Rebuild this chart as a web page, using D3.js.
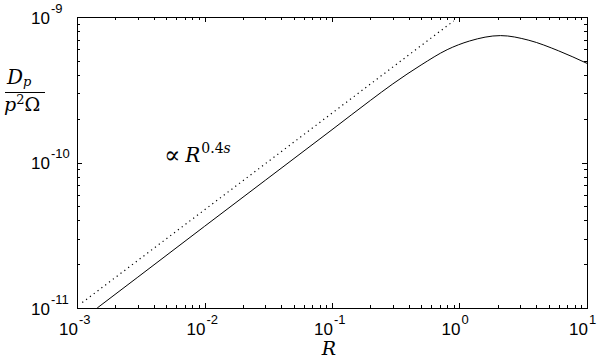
<!DOCTYPE html>
<html>
<head>
<meta charset="utf-8">
<script src="https://cdn.jsdelivr.net/npm/d3@7"></script>
<style>
  html, body { margin: 0; padding: 0; background: #fff; }
  svg { display: block; }
  .tick-label { font-family: "Liberation Sans", Arial, sans-serif; fill: #000; }
  .math { font-family: "DejaVu Serif", "Liberation Serif", serif; fill: #000; }
</style>
</head>
<body>
<svg id="chart" width="600" height="359"></svg>
<script>
// ──────────────  data

// solid curve: D_p / (p^2 Ω) against R
const curveR = [0.00144, 0.003, 0.01, 0.03, 0.1, 0.2, 0.3, 0.5, 0.8, 1.2, 2.1, 3.5, 6, 10];
const curveD = [1.0e-11, 1.63e-11, 3.64e-11, 7.55e-11, 1.68e-10, 2.67e-10, 3.47e-10,
                4.68e-10, 5.96e-10, 6.84e-10, 7.45e-10, 6.92e-10, 5.85e-10, 4.8e-10];

// dotted guide ∝ R^0.4s
const guideR = [0.0011, 0.9];
const guideD = [1.09e-11, 9.4e-10];

const xDecades = [-3, -2, -1, 0, 1];
const yDecades = [-11, -10, -9];

// ──────────────  layout

const M = { left: 77, right: 587, top: 17, bottom: 308 };

const svg = d3.select('#chart');

const x = d3.scaleLog().domain([1e-3, 10]).range([M.left, M.right]);
const y = d3.scaleLog().domain([1e-11, 1e-9]).range([M.bottom, M.top]);

// minor tick positions (2..9 per decade)
function minorTicks(scale) {
  const [a, b] = scale.domain();
  const out = [];
  for (let e = Math.round(Math.log10(a)); e < Math.round(Math.log10(b)); e++) {
    for (let k = 2; k <= 9; k++) out.push(k * Math.pow(10, e));
  }
  return out;
}

const MAJ = 5, MIN = 3;
const ticks = svg.append('g').attr('stroke', '#000').attr('stroke-width', 1);

// x ticks, bottom and top, pointing inward
xDecades.forEach(e => {
  const px = Math.round(x(Math.pow(10, e))) + 0.5;
  ticks.append('line').attr('x1', px).attr('x2', px).attr('y1', M.bottom).attr('y2', M.bottom - MAJ);
  ticks.append('line').attr('x1', px).attr('x2', px).attr('y1', M.top).attr('y2', M.top + MAJ);
});
minorTicks(x).forEach(v => {
  const px = Math.round(x(v)) + 0.5;
  ticks.append('line').attr('x1', px).attr('x2', px).attr('y1', M.bottom).attr('y2', M.bottom - MIN);
  ticks.append('line').attr('x1', px).attr('x2', px).attr('y1', M.top).attr('y2', M.top + MIN);
});

// y ticks, left and right
yDecades.forEach(e => {
  const py = Math.round(y(Math.pow(10, e))) + 0.5;
  ticks.append('line').attr('y1', py).attr('y2', py).attr('x1', M.left).attr('x2', M.left + MAJ);
  ticks.append('line').attr('y1', py).attr('y2', py).attr('x1', M.right).attr('x2', M.right - MAJ);
});
minorTicks(y).forEach(v => {
  const py = Math.round(y(v)) + 0.5;
  ticks.append('line').attr('y1', py).attr('y2', py).attr('x1', M.left).attr('x2', M.left + MIN);
  ticks.append('line').attr('y1', py).attr('y2', py).attr('x1', M.right).attr('x2', M.right - MIN);
});

// frame
svg.append('rect')
  .attr('x', M.left + 0.5).attr('y', M.top + 0.5)
  .attr('width', M.right - M.left).attr('height', M.bottom - M.top)
  .attr('fill', 'none').attr('stroke', '#000').attr('stroke-width', 1);

// ──────────────  tick labels (10 with superscript exponent)

function powerLabel(px, py, e) {
  const g = svg.append('g').attr('class', 'tick-label');
  g.append('text').attr('x', px).attr('y', py)
    .attr('text-anchor', 'end').attr('font-size', 17).text('10');
  g.append('text').attr('x', px + 1).attr('y', py - 11)
    .attr('font-size', 13).text(e < 0 ? '-' + (-e) : String(e));
}
xDecades.forEach(e => powerLabel(x(Math.pow(10, e)) + 1, M.bottom + 27, e));
yDecades.forEach(e => powerLabel(50, y(Math.pow(10, e)) + 6.5, e));

// ──────────────  lines

const line = d3.line()
  .x(d => x(d[0]))
  .y(d => y(d[1]))
  .curve(d3.curveMonotoneX);

svg.append('clipPath').attr('id', 'plot-clip')
  .append('rect').attr('x', M.left).attr('y', M.top)
  .attr('width', M.right - M.left + 1).attr('height', M.bottom - M.top + 1);

const plot = svg.append('g').attr('clip-path', 'url(#plot-clip)');

plot.append('path')
  .datum(guideR.map((r, i) => [r, guideD[i]]))
  .attr('d', d3.line().x(d => x(d[0])).y(d => y(d[1])))
  .attr('fill', 'none').attr('stroke', '#000').attr('stroke-width', 1.2)
  .attr('stroke-dasharray', '1.2,3.6');

plot.append('path')
  .datum(curveR.map((r, i) => [r, curveD[i]]))
  .attr('d', line)
  .attr('fill', 'none').attr('stroke', '#000').attr('stroke-width', 1);

// ──────────────  annotation ∝ R^0.4s

const ann = svg.append('text').attr('class', 'math').attr('x', 164).attr('y', 162).attr('font-size', 20);
ann.append('tspan').attr('font-size', 24).attr('dy', 1).text('∝');
ann.append('tspan').attr('font-style', 'italic').attr('dx', 5).attr('dy', -1).text('R');
ann.append('tspan').attr('font-size', 14).attr('dy', -9).attr('dx', 1).text('0.4');
ann.append('tspan').attr('font-size', 14).attr('font-style', 'italic').text('s');

// ──────────────  axis labels

svg.append('text').attr('class', 'math')
  .attr('x', (M.left + M.right) / 2 - 3).attr('y', 355)
  .attr('text-anchor', 'middle').attr('font-size', 19).attr('font-style', 'italic').text('R');

const num = svg.append('text').attr('class', 'math').attr('x', 7).attr('y', 84).attr('font-size', 20);
num.append('tspan').attr('font-style', 'italic').text('D');
num.append('tspan').attr('font-style', 'italic').attr('font-size', 13).attr('dy', 2).text('p');

svg.append('line').attr('x1', 5).attr('x2', 45).attr('y1', 92.5).attr('y2', 92.5)
  .attr('stroke', '#000').attr('stroke-width', 1);

const den = svg.append('text').attr('class', 'math').attr('x', 4).attr('y', 111).attr('font-size', 19);
den.append('tspan').attr('font-style', 'italic').text('p');
den.append('tspan').attr('font-size', 13).attr('dy', -7).text('2');
den.append('tspan').attr('dy', 7).text('Ω');
</script>
</body>
</html>
